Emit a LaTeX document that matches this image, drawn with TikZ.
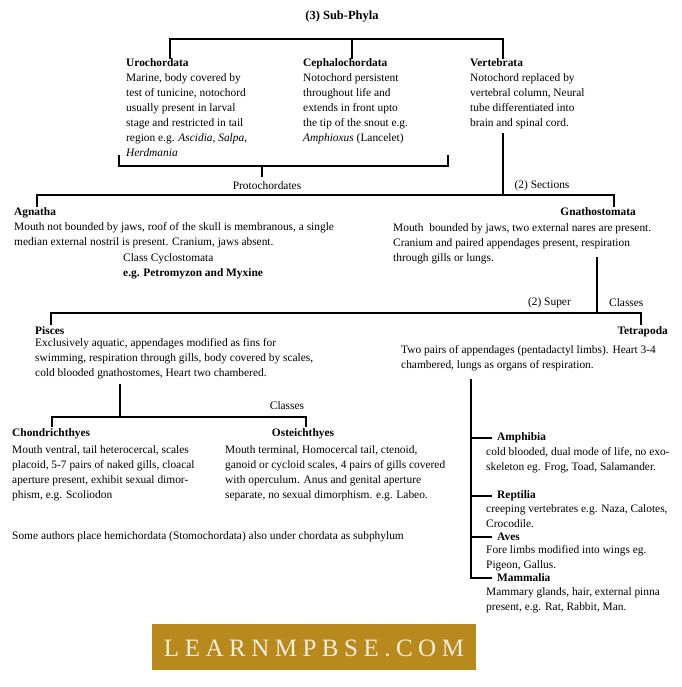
\documentclass[tikz,border=0pt]{standalone}
\usepackage{fontspec}
\setmainfont{Liberation Serif}
\definecolor{logo}{HTML}{B8891C}
\definecolor{logotext}{HTML}{F6EEDC}
\begin{document}
\begin{tikzpicture}[x=1pt,y=-1pt,
  txt/.style={anchor=north west,inner sep=0pt,align=left,font=\fontsize{11.4}{15}\selectfont},
  ttl/.style={anchor=north west,inner sep=0pt,font=\fontsize{11.4}{15}\selectfont\bfseries},
  lbl/.style={inner sep=0pt,font=\fontsize{11.4}{12}\selectfont},
  ln/.style={line width=1.2pt}]
\useasboundingbox (0,0) rectangle (681,687);
\fill[white] (0,0) rectangle (681,687);
\node[inner sep=0pt,font=\fontsize{12.5}{14}\selectfont\bfseries] (title) at (342,17) {(3) Sub-Phyla};
% top level
\coordinate (tl) at (170,39); \coordinate (tm) at (352,39); \coordinate (tr) at (503,39);
\draw[ln] (170,59) -- (tl) -- (tr) -- (503,59);
\draw[ln] (tm) -- (352,59);
\node[txt] (uro) at (126,58) {\textbf{Urochordata}\\Marine, body covered by\\test of tunicine, notochord\\usually present in larval\\stage and restricted in tail\\region e.g. \textit{Ascidia, Salpa,}\\\textit{Herdmania}};
\node[txt] (ceph) at (303,58) {\textbf{Cephalochordata}\\Notochord persistent\\throughout life and\\extends in front upto\\the tip of the snout e.g.\\\textit{Amphioxus} (Lancelet)};
\node[txt] (vert) at (470,58) {\textbf{Vertebrata}\\Notochord replaced by\\vertebral column, Neural\\tube differentiated into\\brain and spinal cord.};
% bracket
\draw[ln] (119,155) -- (119,166) -- (448,166) -- (448,155);
\draw[ln] (262,166) -- (262,177);
\node[lbl] (proto) at (267,186) {Protochordates};
% vertebrata split
\coordinate (vs) at (503,133); \coordinate (vb) at (503,195);
\draw[ln] (vs) -- (vb);
\node[lbl] (sect) at (542,186) {(2) Sections};
\draw[ln] (37,207) -- (37,195) -- (614,195) -- (614,207);
\node[txt] (agn) at (14,207) {\textbf{Agnatha}\\Mouth not bounded by jaws, roof of the skull is membranous, a single\\median external nostril is present. Cranium, jaws absent.};
\node[txt] (cyc) at (123,253) {Class Cyclostomata\\\textbf{e.g. Petromyzon and Myxine}};
\node[ttl,anchor=north east] (gna) at (636,207) {Gnathostomata};
\node[txt] (gnat) at (393,223) {Mouth \ bounded by jaws, two external nares are present.\\Cranium and paired appendages present, respiration\\through gills or lungs.};
% super classes
\draw[ln] (597,257) -- (597,313);
\node[lbl,anchor=east] (sup) at (571,303) {(2) Super};
\node[lbl,anchor=west] (cls) at (609,303) {Classes};
\draw[ln] (51,325) -- (51,313) -- (641,313) -- (641,325);
\node[ttl] (pis) at (35,326) {Pisces};
\node[txt] (pist) at (35,338) {Exclusively aquatic, appendages modified as fins for\\swimming, respiration through gills, body covered by scales,\\cold blooded gnathostomes, Heart two chambered.};
\node[ttl,anchor=north east] (tet) at (668,326) {Tetrapoda};
\node[txt] (tett) at (401,345) {Two pairs of appendages (pentadactyl limbs). Heart 3-4\\chambered, lungs as organs of respiration.};
% pisces classes
\draw[ln] (120,384) -- (120,417);
\draw[ln] (52,427) -- (52,417) -- (306,417) -- (306,427);
\node[lbl] (cl2) at (287,406) {Classes};
\node[ttl] (cho) at (12,428) {Chondrichthyes};
\node[txt] (chot) at (12,445) {Mouth ventral, tail heterocercal, scales\\placoid, 5-7 pairs of naked gills, cloacal\\aperture present, exhibit sexual dimor-\\phism, e.g. Scoliodon};
\node[ttl,anchor=north] (ost) at (303,428) {Osteichthyes};
\node[txt] (ostt) at (225,445) {Mouth terminal, Homocercal tail, ctenoid,\\ganoid or cycloid scales, 4 pairs of gills covered\\with operculum. Anus and genital aperture\\separate, no sexual dimorphism. e.g. Labeo.};
\node[txt] (foot) at (12,531) {Some authors place hemichordata (Stomochordata) also under chordata as subphylum};
% tetrapoda classes
\draw[ln] (471,379) -- (471,578) -- (492,578);
\draw[ln] (471,438) -- (492,438);
\draw[ln] (471,496) -- (492,496);
\draw[ln] (471,537) -- (492,537);
\node[ttl,anchor=west] (amp) at (497,438) {Amphibia};
\node[txt] (ampt) at (486,447) {cold blooded, dual mode of life, no exo-\\skeleton eg. Frog, Toad, Salamander.};
\node[ttl,anchor=west] (rep) at (497,496) {Reptilia};
\node[txt] (rept) at (486,504) {creeping vertebrates e.g. Naza, Calotes,\\Crocodile.};
\node[ttl,anchor=west] (ave) at (497,537) {Aves};
\node[txt] (avet) at (486,545) {Fore limbs modified into wings eg.\\Pigeon, Gallus.};
\node[ttl,anchor=west] (mam) at (497,578) {Mammalia};
\node[txt] (mamt) at (486,587) {Mammary glands, hair, external pinna\\present, e.g. Rat, Rabbit, Man.};
% logo
\fill[logo] (152,624) rectangle (476,670);
\node[inner sep=0pt,text=logotext,font=\fontsize{25}{28}\selectfont\addfontfeature{LetterSpace=22}] (logo) at (314,648) {LEARNMPBSE.COM};
\end{tikzpicture}
\end{document}
